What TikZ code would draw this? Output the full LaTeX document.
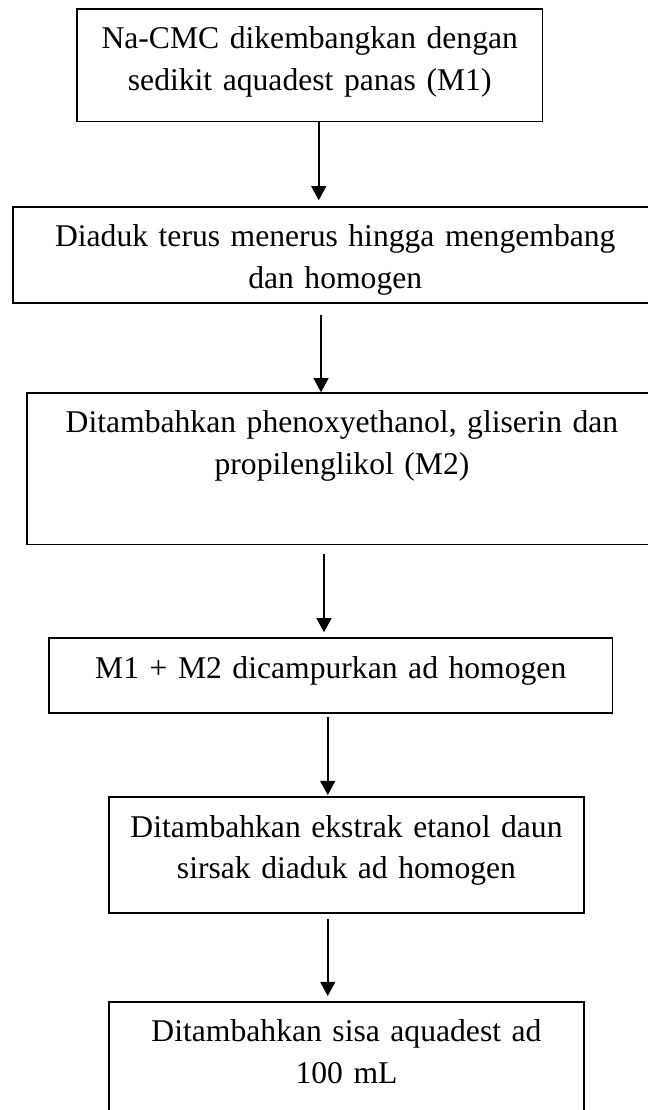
\documentclass[tikz,border=0pt]{standalone}
\usepackage{fontspec}
\setmainfont{Liberation Serif}
\usetikzlibrary{arrows.meta}

\begin{document}
\begin{tikzpicture}[
  font=\fontsize{12pt}{15.9pt}\selectfont,
  stepbox/.style={draw=black, line width=0.6pt, rectangle, anchor=north, align=center,
    inner xsep=0pt, inner ysep=0pt, outer sep=0pt, text height=5.3mm},
  arr/.style={-{Triangle[length=1.9mm, width=2mm]}, line width=0.7pt, black}
]
\useasboundingbox (0,0) rectangle (8.64,-14.8);

% Step 1: M1
\node[stepbox, text width=62.1mm, text depth=9.7mm] (s1) at (4.13,-0.12) {%
  Na-CMC dikembangkan dengan\\sedikit aquadest panas (M1)};

% Step 2: stirring
\node[stepbox, text width=85.9mm, text depth=7.5mm] (s2) at (4.47,-2.76) {%
  Diaduk terus menerus hingga mengembang\\dan homogen};

% Step 3: M2
\node[stepbox, text width=84.0mm, text depth=14.9mm] (s3) at (4.56,-5.24) {%
  Ditambahkan phenoxyethanol, gliserin dan\\propilenglikol (M2)};

% Step 4: mixing
\node[stepbox, text width=75.1mm, text depth=4.7mm] (s4) at (4.41,-8.51) {%
  M1 + M2 dicampurkan ad homogen};

% Step 5: extract
\node[stepbox, text width=63.3mm, text depth=10.1mm] (s5) at (4.62,-10.63) {%
  Ditambahkan ekstrak etanol daun\\sirsak diaduk ad homogen};

% Step 6: rest of water
\node[stepbox, text width=63.3mm, text depth=20mm] (s6) at (4.62,-13.36) {%
  Ditambahkan sisa aquadest ad\\100 mL};

% arrows between steps
\draw[arr, shorten >=0.9mm] ([xshift=1.2mm]s1.south) -- ([xshift=1.2mm]s1.south |- s2.north);
\draw[arr, shorten <=1.6mm, shorten >=0.1mm] ([xshift=-1.9mm]s2.south) -- ([xshift=-1.9mm]s2.south |- s3.north);
\draw[arr, shorten <=1.3mm, shorten >=0.8mm] ([xshift=-2.4mm]s3.south) -- ([xshift=-2.4mm]s3.south |- s4.north);
\draw[arr, shorten <=0.5mm, shorten >=0.3mm] ([xshift=-0.4mm]s4.south) -- ([xshift=-0.4mm]s4.south |- s5.north);
\draw[arr, shorten <=0.8mm, shorten >=0.8mm] ([xshift=-2.5mm]s5.south) -- ([xshift=-2.5mm]s5.south |- s6.north);

\end{tikzpicture}
\end{document}
